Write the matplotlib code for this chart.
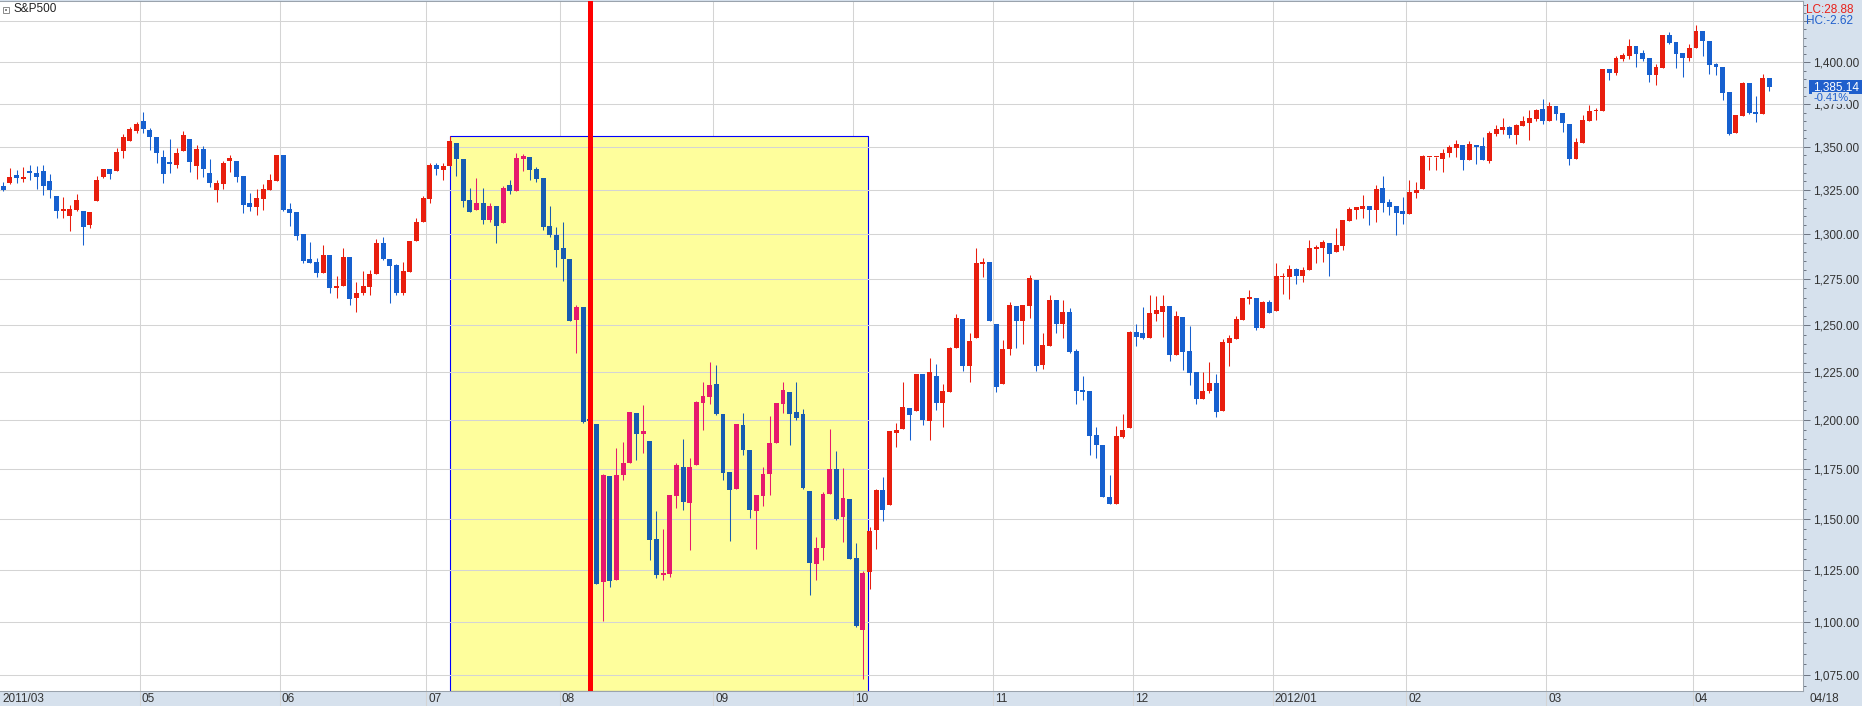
import matplotlib.pyplot as plt
from matplotlib.patches import Rectangle
from matplotlib.ticker import FixedLocator, FuncFormatter, NullFormatter

# S&P500 daily candles, 2011-03-31 .. 2012-04-18
opens = [
    1327.3, 1329.3, 1333.7, 1331.6, 1336.0, 1334.9, 1336.0, 1330.1, 1321.6, 1312.9,
    1310.1, 1313.7, 1313.1, 1305.0, 1318.6, 1332.6, 1337.3, 1336.0, 1347.6, 1353.3,
    1359.2, 1365.1, 1359.6, 1355.5, 1344.1, 1340.6, 1339.6, 1347.6, 1354.4, 1338.9,
    1348.7, 1335.0, 1325.3, 1328.4, 1341.8, 1341.8, 1333.2, 1317.7, 1315.5, 1319.9,
    1325.0, 1330.2, 1345.2, 1314.1, 1312.5, 1300.1, 1286.3, 1284.6, 1278.5, 1288.5,
    1270.2, 1271.3, 1287.4, 1264.7, 1267.5, 1270.7, 1277.7, 1295.1, 1286.3, 1283.0,
    1267.5, 1279.0, 1296.3, 1306.9, 1319.9, 1339.5, 1336.5, 1338.8, 1352.1, 1343.1,
    1319.4, 1313.6, 1317.7, 1308.0, 1316.0, 1306.3, 1327.9, 1324.5, 1343.1, 1344.2,
    1337.3, 1332.1, 1304.6, 1299.6, 1292.3, 1286.1, 1253.1, 1259.9, 1200.4, 1197.9,
    1119.1, 1171.3, 1120.0, 1171.8, 1177.9, 1203.6, 1192.7, 1189.1, 1140.0, 1122.5,
    1123.0, 1161.2, 1175.9, 1157.8, 1176.9, 1209.0, 1212.2, 1218.7, 1203.1, 1173.4,
    1164.8, 1197.4, 1184.6, 1154.0, 1161.3, 1172.3, 1188.1, 1208.3, 1214.6, 1204.1,
    1203.1, 1163.8, 1127.8, 1135.6, 1162.3, 1174.8, 1151.0, 1159.8, 1130.7, 1096.1,
    1124.0, 1144.5, 1164.3, 1156.8, 1193.3, 1195.3, 1206.2, 1204.6, 1224.0, 1199.4,
    1223.0, 1208.8, 1214.6, 1237.8, 1253.3, 1228.2, 1242.9, 1283.5, 1284.6, 1250.6,
    1218.7, 1237.3, 1260.4, 1252.3, 1260.4, 1274.6, 1228.7, 1238.8, 1263.7, 1250.6,
    1257.1, 1236.2, 1215.6, 1215.0, 1192.2, 1187.1, 1160.8, 1157.3, 1191.2, 1195.8,
    1246.3, 1245.8, 1243.1, 1256.0, 1257.1, 1260.4, 1234.1, 1254.5, 1236.2, 1225.0,
    1210.9, 1215.0, 1219.2, 1204.6, 1240.5, 1242.6, 1252.8, 1264.5, 1264.7, 1248.5,
    1262.6, 1257.6, 1276.3, 1276.3, 1280.7, 1276.8, 1280.1, 1291.7, 1292.3, 1295.1,
    1290.0, 1293.4, 1307.5, 1313.6, 1314.2, 1315.8, 1313.6, 1326.1, 1318.2, 1316.0,
    1313.1, 1311.4, 1323.2, 1325.6, 1343.9, 1343.9, 1343.1, 1346.5, 1349.3, 1350.8,
    1342.5, 1350.8, 1350.3, 1341.9, 1357.2, 1360.0, 1361.7, 1356.6, 1362.3, 1364.0,
    1366.4, 1372.1, 1365.0, 1373.9, 1369.8, 1363.3, 1342.9, 1352.1, 1365.0, 1370.7,
    1371.0, 1396.0, 1393.6, 1402.0, 1403.8, 1409.9, 1405.6, 1402.6, 1392.4, 1396.6,
    1416.6, 1412.3, 1405.6, 1402.6, 1408.7, 1419.0, 1412.9, 1399.0, 1397.2, 1382.2,
    1357.9, 1368.0, 1387.6, 1370.4, 1369.2, 1390.6,
]
highs = [
    1329.6, 1337.7, 1336.6, 1338.3, 1339.4, 1338.9, 1339.4, 1334.4, 1321.6, 1321.0,
    1316.6, 1322.8, 1313.1, 1312.5, 1332.8, 1337.3, 1337.3, 1349.3, 1357.3, 1361.4,
    1364.5, 1370.2, 1360.8, 1355.5, 1348.0, 1354.4, 1349.3, 1359.1, 1354.4, 1351.0,
    1350.5, 1342.8, 1330.6, 1341.7, 1345.2, 1341.8, 1333.2, 1323.4, 1325.6, 1328.5,
    1334.3, 1345.2, 1345.2, 1317.8, 1312.5, 1300.1, 1295.7, 1286.8, 1294.0, 1288.5,
    1276.9, 1292.3, 1287.4, 1273.6, 1279.6, 1280.1, 1297.4, 1298.5, 1286.3, 1283.5,
    1284.6, 1296.3, 1309.2, 1321.4, 1340.5, 1340.5, 1340.5, 1356.5, 1352.1, 1343.1,
    1326.1, 1331.8, 1326.1, 1317.7, 1316.0, 1327.3, 1330.6, 1346.6, 1346.0, 1344.2,
    1338.4, 1332.1, 1316.0, 1304.0, 1306.9, 1286.1, 1261.0, 1259.9, 1218.1, 1197.9,
    1172.3, 1171.3, 1185.6, 1188.6, 1204.1, 1203.6, 1207.7, 1189.1, 1153.8, 1144.9,
    1161.8, 1177.9, 1190.0, 1180.5, 1209.8, 1219.8, 1230.5, 1228.9, 1203.1, 1173.4,
    1197.9, 1203.6, 1184.6, 1161.8, 1175.9, 1202.1, 1208.8, 1219.8, 1214.6, 1219.8,
    1205.6, 1163.8, 1141.0, 1163.3, 1195.3, 1184.0, 1175.4, 1159.8, 1138.0, 1124.4,
    1146.0, 1164.8, 1170.8, 1194.3, 1198.4, 1219.8, 1206.2, 1224.0, 1224.0, 1232.6,
    1229.4, 1218.7, 1238.3, 1256.0, 1253.3, 1245.9, 1292.5, 1286.8, 1284.6, 1250.6,
    1242.0, 1262.6, 1260.4, 1260.9, 1277.4, 1274.6, 1245.9, 1266.5, 1263.7, 1263.7,
    1259.3, 1237.3, 1223.0, 1215.0, 1196.3, 1187.1, 1171.8, 1196.8, 1203.1, 1246.9,
    1250.6, 1259.8, 1266.5, 1265.9, 1266.5, 1260.4, 1257.6, 1254.5, 1249.5, 1225.0,
    1225.0, 1230.3, 1224.0, 1242.6, 1244.7, 1254.9, 1264.7, 1269.1, 1264.7, 1263.1,
    1263.7, 1284.0, 1278.5, 1282.9, 1281.2, 1281.8, 1296.8, 1294.0, 1296.8, 1295.1,
    1303.5, 1308.1, 1315.3, 1315.3, 1322.2, 1315.8, 1327.9, 1333.2, 1319.9, 1316.0,
    1321.0, 1330.6, 1329.5, 1345.4, 1344.3, 1344.3, 1348.9, 1350.8, 1353.7, 1350.8,
    1353.1, 1350.8, 1355.4, 1359.2, 1362.9, 1367.0, 1362.3, 1363.4, 1368.1, 1371.8,
    1372.3, 1378.0, 1376.1, 1373.9, 1369.8, 1363.3, 1354.8, 1368.6, 1374.5, 1372.7,
    1396.0, 1396.0, 1403.8, 1405.6, 1414.1, 1409.9, 1407.4, 1402.6, 1399.0, 1416.6,
    1418.4, 1412.3, 1405.6, 1411.1, 1422.6, 1419.0, 1412.9, 1399.6, 1397.2, 1382.2,
    1368.6, 1388.2, 1387.6, 1379.8, 1392.9, 1390.6,
]
lows = [
    1324.4, 1328.7, 1329.3, 1329.9, 1331.0, 1325.6, 1322.1, 1320.4, 1309.1, 1309.0,
    1302.1, 1313.0, 1294.0, 1303.3, 1318.6, 1332.1, 1331.6, 1336.0, 1343.5, 1353.3,
    1358.1, 1358.0, 1348.0, 1340.4, 1329.3, 1335.0, 1337.7, 1347.6, 1335.4, 1331.6,
    1332.7, 1327.0, 1318.3, 1325.6, 1335.4, 1329.8, 1312.0, 1313.0, 1310.8, 1313.7,
    1325.0, 1330.2, 1313.0, 1304.6, 1296.8, 1284.0, 1284.0, 1276.3, 1278.5, 1267.5,
    1264.7, 1271.3, 1260.9, 1257.1, 1266.4, 1266.4, 1277.7, 1285.7, 1262.0, 1266.4,
    1266.4, 1279.0, 1296.3, 1306.9, 1317.7, 1333.7, 1330.6, 1338.8, 1333.2, 1315.5,
    1312.5, 1313.6, 1305.7, 1306.9, 1295.1, 1306.3, 1322.8, 1324.5, 1336.0, 1330.6,
    1329.5, 1302.4, 1298.5, 1281.8, 1274.0, 1252.2, 1235.0, 1198.6, 1168.1, 1118.1,
    1100.4, 1116.6, 1120.0, 1169.3, 1177.9, 1179.5, 1183.0, 1129.7, 1121.0, 1120.0,
    1121.5, 1155.5, 1154.4, 1134.6, 1176.9, 1194.8, 1208.3, 1202.6, 1169.4, 1139.0,
    1164.8, 1182.0, 1150.3, 1135.1, 1156.3, 1161.8, 1188.1, 1203.6, 1187.1, 1199.9,
    1164.8, 1112.8, 1120.0, 1129.7, 1162.3, 1149.4, 1138.5, 1130.3, 1097.5, 1073.2,
    1115.7, 1135.0, 1149.0, 1156.8, 1186.1, 1195.3, 1189.6, 1204.6, 1197.4, 1189.6,
    1205.1, 1196.3, 1214.6, 1237.8, 1225.6, 1219.8, 1242.9, 1276.3, 1252.3, 1214.6,
    1218.7, 1234.1, 1237.8, 1239.9, 1253.9, 1225.6, 1226.6, 1238.8, 1245.9, 1243.1,
    1235.2, 1208.3, 1210.3, 1182.0, 1180.5, 1160.8, 1157.3, 1157.3, 1190.7, 1195.8,
    1238.8, 1242.6, 1243.1, 1252.3, 1243.6, 1230.9, 1234.1, 1226.1, 1218.2, 1208.3,
    1210.9, 1214.0, 1201.5, 1204.6, 1228.2, 1242.6, 1252.8, 1261.5, 1247.4, 1248.5,
    1256.5, 1257.6, 1266.9, 1264.2, 1272.4, 1273.5, 1280.1, 1284.0, 1284.6, 1276.8,
    1290.0, 1291.2, 1307.5, 1308.6, 1309.2, 1305.2, 1306.9, 1312.5, 1310.8, 1299.6,
    1305.7, 1311.4, 1320.2, 1325.6, 1336.5, 1336.5, 1335.4, 1344.2, 1344.2, 1336.5,
    1342.5, 1339.9, 1342.5, 1340.5, 1356.1, 1357.2, 1354.9, 1351.5, 1362.3, 1353.7,
    1365.0, 1363.3, 1365.0, 1365.6, 1358.6, 1339.4, 1342.9, 1352.1, 1365.0, 1365.6,
    1371.0, 1389.3, 1392.3, 1400.8, 1402.0, 1397.2, 1400.8, 1388.2, 1386.4, 1396.6,
    1411.1, 1396.6, 1391.1, 1400.8, 1408.7, 1403.8, 1392.9, 1392.4, 1377.4, 1356.8,
    1357.9, 1368.0, 1369.2, 1364.4, 1369.2, 1382.8,
]
closes = [
    1325.0, 1332.7, 1332.2, 1332.7, 1334.9, 1332.6, 1327.4, 1324.9, 1313.2, 1314.2,
    1314.0, 1319.4, 1304.2, 1312.5, 1330.6, 1337.3, 1334.4, 1347.0, 1355.6, 1360.3,
    1363.3, 1360.3, 1355.5, 1346.4, 1334.4, 1340.2, 1346.3, 1356.7, 1341.2, 1348.7,
    1337.2, 1329.0, 1329.0, 1340.7, 1343.5, 1332.6, 1316.6, 1315.5, 1320.5, 1325.6,
    1330.8, 1345.2, 1313.6, 1311.9, 1299.2, 1285.2, 1284.0, 1278.6, 1288.5, 1270.2,
    1271.3, 1287.4, 1264.2, 1267.5, 1271.3, 1278.2, 1295.1, 1286.3, 1282.4, 1267.5,
    1279.6, 1296.3, 1306.9, 1320.4, 1339.5, 1337.2, 1338.8, 1353.3, 1343.1, 1318.9,
    1312.5, 1317.7, 1308.0, 1316.0, 1304.6, 1326.1, 1324.5, 1343.7, 1344.8, 1336.5,
    1331.5, 1304.0, 1299.6, 1291.2, 1286.1, 1252.2, 1259.9, 1199.0, 1199.4, 1118.1,
    1171.8, 1119.6, 1171.8, 1177.9, 1204.1, 1192.7, 1194.1, 1139.5, 1122.5, 1123.0,
    1161.8, 1176.9, 1158.3, 1175.9, 1209.3, 1212.5, 1218.2, 1203.1, 1172.8, 1164.3,
    1197.9, 1184.6, 1154.5, 1161.8, 1172.3, 1188.1, 1208.8, 1215.6, 1203.1, 1201.0,
    1165.3, 1128.3, 1135.6, 1162.3, 1174.8, 1149.9, 1160.3, 1130.3, 1098.0, 1123.5,
    1144.0, 1164.3, 1154.4, 1194.3, 1194.8, 1206.7, 1202.6, 1224.0, 1199.9, 1225.0,
    1208.8, 1215.1, 1237.8, 1253.9, 1228.2, 1241.5, 1284.0, 1284.6, 1252.3, 1217.1,
    1237.3, 1260.9, 1252.3, 1260.9, 1275.7, 1228.2, 1239.4, 1263.7, 1250.6, 1257.1,
    1235.7, 1215.0, 1214.5, 1191.7, 1187.1, 1160.8, 1157.3, 1191.7, 1194.8, 1246.3,
    1243.6, 1243.1, 1256.5, 1258.2, 1260.4, 1234.1, 1254.9, 1235.7, 1224.5, 1210.9,
    1215.0, 1219.2, 1204.1, 1241.0, 1243.1, 1253.3, 1264.7, 1264.7, 1248.5, 1262.6,
    1256.5, 1276.8, 1276.8, 1280.7, 1276.8, 1280.1, 1292.3, 1292.9, 1295.7, 1288.9,
    1294.0, 1308.1, 1314.2, 1315.3, 1315.8, 1313.6, 1325.6, 1317.7, 1315.3, 1312.0,
    1311.4, 1323.9, 1325.0, 1344.8, 1344.3, 1344.3, 1346.6, 1349.6, 1351.4, 1342.1,
    1351.4, 1349.7, 1342.5, 1358.1, 1360.6, 1361.7, 1356.6, 1362.8, 1365.2, 1367.0,
    1371.6, 1365.0, 1373.9, 1369.2, 1363.8, 1342.9, 1352.6, 1365.6, 1371.0, 1371.0,
    1396.0, 1393.6, 1402.6, 1404.4, 1409.9, 1405.0, 1402.0, 1392.4, 1397.2, 1416.6,
    1411.7, 1405.0, 1402.6, 1408.7, 1419.0, 1412.9, 1398.4, 1397.2, 1381.6, 1357.4,
    1368.6, 1387.6, 1369.8, 1369.2, 1390.6, 1385.1,
]

# month separators (candle index of boundary) and their labels
month_pos = [20.5, 41.5, 63.5, 83.5, 106.5, 127.5, 148.5, 169.5, 190.5, 210.5, 231.5, 253.5]
month_labels = ['05', '06', '07', '08', '09', '10', '11', '12', '2012/01', '02', '03', '04']
first_label = '2011/03'
last_label = '04/18'

price_levels = [1075, 1100, 1125, 1150, 1175, 1200, 1225, 1250, 1275, 1300,
                1325, 1350, 1375, 1400, 1425]

box_from, box_to = 67, 129.8   # Jul 7 high .. Oct low zone
event_day = 88                 # 2011-08-05
last_price = 1385.14
last_change = '-0.41%'
lc_text = 'LC:28.88'
hc_text = 'HC:-2.62'

W, H = 1862, 706
PANEL = '#d6e1ed'
FONT = 'Liberation Sans'

fig = plt.figure(figsize=(W / 100, H / 100), dpi=100)
fig.patch.set_facecolor(PANEL)
ax = fig.add_axes([0, 15 / H, 1803 / W, 690 / H])
ax.set_facecolor('white')
ax.set_yscale('log')
ylo, yhi = 1067.7, 1437.5
ax.set_ylim(ylo, yhi)
ax.set_xlim(-0.495, 270.06)

# grid
ax.yaxis.set_major_locator(FixedLocator(price_levels))
ax.yaxis.set_minor_locator(FixedLocator(list(range(1070, 1440, 5))))
ax.yaxis.set_major_formatter(FuncFormatter(lambda v, _: f'{v:,.2f}' if v < 1420 else ''))
ax.yaxis.set_minor_formatter(NullFormatter())
ax.yaxis.tick_right()
ax.tick_params(axis='y', which='major', length=5, width=0.7, color='#6b7380',
               pad=2, labelsize=8.5, labelcolor='#333333', labelfontfamily=FONT)
ax.tick_params(axis='y', which='minor', length=2.5, width=0.7, color='#6b7380')
ax.set_xticks([])
ax.grid(axis='y', which='major', color='#d4d4d4', lw=0.75, zorder=0)
for p in month_pos:
    ax.axvline(p, ymin=-15 / 690, ymax=1, color='#d4d4d4', lw=0.75, zorder=0.5, clip_on=False)
ax.spines['left'].set_visible(False)
for s in ['top', 'bottom', 'right']:
    ax.spines[s].set_color('#9aa3ad')
    ax.spines[s].set_linewidth(0.75)

# highlighted zone
ax.add_patch(Rectangle((box_from, ylo), box_to - box_from, highs[box_from] - ylo,
                       facecolor='#fefe9c', edgecolor='#0000ff', lw=0.8, zorder=1))

# candles
for i, (o, h, l, c) in enumerate(zip(opens, highs, lows, closes)):
    inside = box_from < i < box_to
    if c >= o:
        col = '#e6196d' if inside else '#e81e0e'
    else:
        col = '#175cb0' if inside else '#1660cf'
    ax.vlines(i, l, h, color=col, lw=0.75, zorder=2)
    lo, hi = min(o, c), max(o, c)
    hi = max(hi, lo * 1.0006)
    ax.add_patch(Rectangle((i - 0.37, lo), 0.74, hi - lo, facecolor=col,
                           edgecolor='none', zorder=2))

ax.axvline(event_day, color='#ff0000', lw=3.6, zorder=3)

# bottom date labels
tr = ax.get_xaxis_transform()
ax.text(-0.2, -0.0112, first_label, transform=tr, ha='left', va='center',
        fontsize=8.5, color='#333333', family=FONT, clip_on=False)
for p, lab in zip(month_pos, month_labels):
    ax.text(p + 0.3, -0.0112, lab, transform=tr, ha='left', va='center',
            fontsize=8.5, color='#333333', family=FONT, clip_on=False)
fig.text(1809 / W, 1 - 698.5 / H, last_label, ha='left', va='center',
         fontsize=8.5, color='#333333', family=FONT)

# header
fig.add_artist(Rectangle((3 / W, 1 - 13 / H), 6 / W, 6 / H, transform=fig.transFigure,
                         facecolor='white', edgecolor='#8a8a8a', lw=0.7))
fig.add_artist(Rectangle((5 / W, 1 - 11 / H), 2 / W, 2 / H, transform=fig.transFigure,
                         facecolor='#8a8a8a', edgecolor='none'))
fig.text(13 / W, 1 - 9.5 / H, 'S&P500', ha='left', va='center', fontsize=8.5,
         color='#222222', family=FONT)

# right panel info
fig.text(1806 / W, 1 - 10 / H, lc_text, ha='left', va='center', fontsize=8.5,
         color='#e8201a', family=FONT)
fig.text(1806 / W, 1 - 21 / H, hc_text, ha='left', va='center', fontsize=8.5,
         color='#1f5fcc', family=FONT)
fig.add_artist(Rectangle((1809 / W, 1 - 94.3 / H), 53 / W, 14.3 / H,
                         transform=fig.transFigure, facecolor='#1f5fcc', edgecolor='none'))
fig.text(1813 / W, 1 - 87.2 / H, f'{last_price:,.2f}', ha='left', va='center',
         fontsize=8.5, color='white', family=FONT)
# the change line sits over the top of the 1,375.00 label, as in the source
fig.text(1813 / W, 1 - 98 / H, last_change, ha='left', va='center', fontsize=8,
         color='#1f5fcc', family=FONT, zorder=5,
         bbox=dict(facecolor=PANEL, edgecolor='none', pad=0.4))

fig.savefig('out.png', dpi=100, facecolor=fig.get_facecolor())
